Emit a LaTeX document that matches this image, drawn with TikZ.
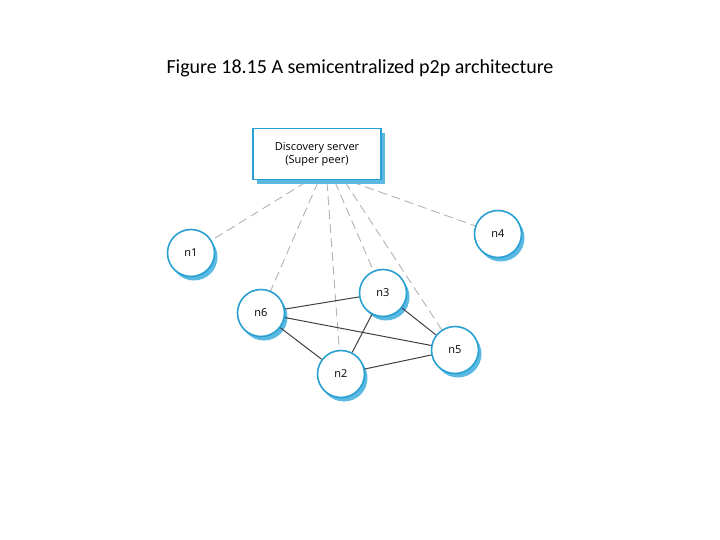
\documentclass[tikz,border=0pt]{standalone}
\usepackage{fontspec}
\usetikzlibrary{shadows}
\setmainfont{Carlito}
\newfontfamily\lab{Open Sans}
\definecolor{nb}{RGB}{40,160,210}
\definecolor{sh}{RGB}{90,185,225}
\begin{document}
\begin{tikzpicture}[x=1pt,y=-1pt,
 peer/.style={circle,draw=nb,line width=1.6pt,fill=white,minimum size=47pt,inner sep=0pt,font=\lab\fontsize{11}{13}\selectfont,
   drop shadow={shadow xshift=3pt,shadow yshift=-4pt,fill=sh,opacity=1}},
 srv/.style={draw=nb,line width=1.6pt,fill=white,minimum width=128pt,minimum height=51pt,align=center,font=\lab\fontsize{11}{13}\selectfont,
   drop shadow={shadow xshift=4pt,shadow yshift=-5pt,fill=sh,opacity=1}},
 dl/.style={draw=gray!60,dashed,dash pattern=on 9pt off 5pt,line width=0.9pt},
 sl/.style={draw=black!75,line width=1pt}]
\useasboundingbox (0,0) rectangle (720,540);
\node[font=\fontsize{20}{24}\selectfont] (t) at (360,68) {Figure 18.15 A semicentralized p2p architecture};
\coordinate (s1) at (306,182); \coordinate (s6) at (318,182); \coordinate (s2) at (327,182);
\coordinate (s3) at (335,182); \coordinate (s5) at (345,182); \coordinate (s4) at (352,182);
\path (191,253) coordinate (c1) (498,234) coordinate (c4) (261,313) coordinate (c6)
 (383,293) coordinate (c3) (455,350) coordinate (c5) (341,374) coordinate (c2);
\draw[dl] (s1) -- (c1);
\draw[dl] (s6) -- (c6); \draw[dl] (s2) -- (c2); \draw[dl] (s3) -- (c3);
\draw[dl] (s5) -- (c5); \draw[dl] (s4) -- (c4);
\node[srv] (srv) at (317,154) {Discovery server\\(Super peer)};
\node[peer] (n1) at (c1) {n1};
\node[peer] (n4) at (c4) {n4};
\node[peer] (n6) at (c6) {n6};
\node[peer] (n3) at (c3) {n3};
\node[peer] (n5) at (c5) {n5};
\node[peer] (n2) at (c2) {n2};
\draw[sl] (n6) -- (n3); \draw[sl] (n6) -- (n5); \draw[sl] (n6) -- (n2);
\draw[sl] (n3) -- (n2); \draw[sl] (n3) -- (n5); \draw[sl] (n2) -- (n5);
\end{tikzpicture}
\end{document}
